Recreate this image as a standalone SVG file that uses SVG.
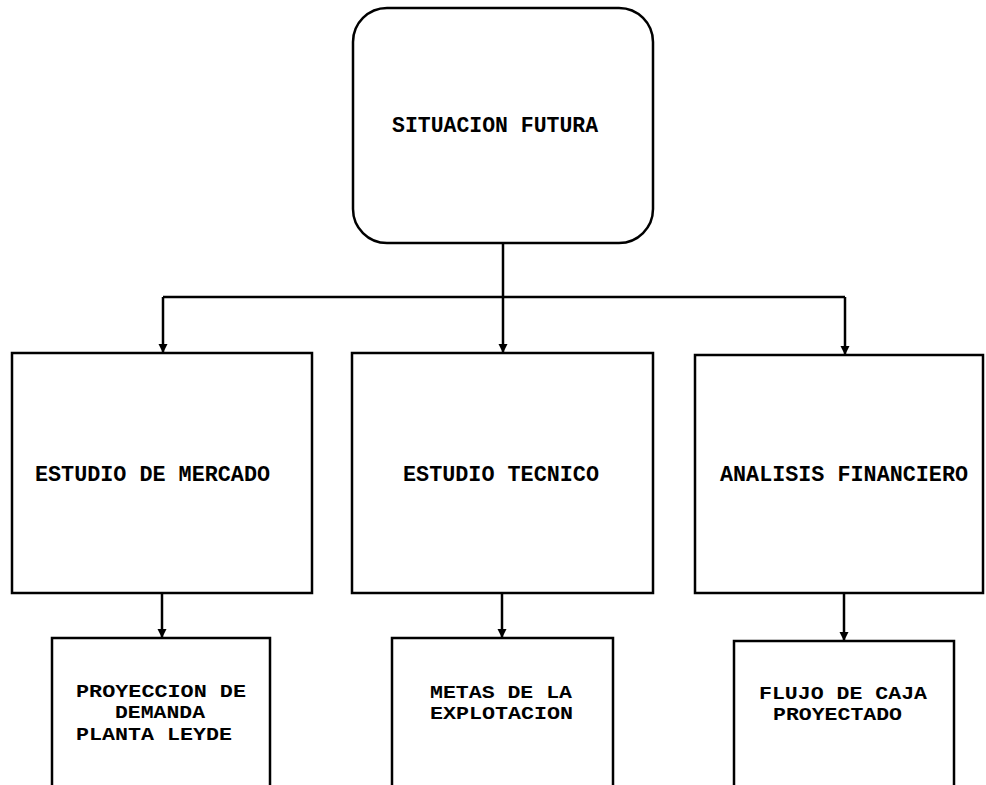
<svg xmlns="http://www.w3.org/2000/svg" width="986" height="785" viewBox="0 0 986 785">
<defs>
<marker id="ah" viewBox="0 0 10 10" refX="10" refY="5" markerWidth="9" markerHeight="10" markerUnits="userSpaceOnUse" orient="auto">
<path d="M0,0 L10,5 L0,10 Z" fill="#000"/>
</marker>
<style>
.box{fill:#fff;stroke:#000;stroke-width:2.5}
.t{font-family:"Liberation Mono","Courier New",monospace;font-weight:bold;font-size:22px;fill:#000}
.s{font-size:19px}
.c{fill:none;stroke:#000;stroke-width:2.5}
</style>
</defs>
<rect width="986" height="785" fill="#fff"/>
<g id="connectors">
<path class="c" d="M503,243 V297"/>
<path class="c" d="M163,297 H845"/>
<path class="c" d="M163,297 V353" marker-end="url(#ah)"/>
<path class="c" d="M503,297 V353" marker-end="url(#ah)"/>
<path class="c" d="M845,297 V355" marker-end="url(#ah)"/>
<path class="c" d="M162,593 V638" marker-end="url(#ah)"/>
<path class="c" d="M502,593 V638" marker-end="url(#ah)"/>
<path class="c" d="M844,593 V641" marker-end="url(#ah)"/>
</g>
<g id="situacion">
<rect class="box" x="353" y="8" width="300" height="235" rx="34" ry="34"/>
<text class="t" x="392" y="132" textLength="206" lengthAdjust="spacingAndGlyphs">SITUACION FUTURA</text>
</g>
<g id="mercado">
<rect class="box" x="12" y="353" width="300" height="240"/>
<text class="t" x="35" y="481" textLength="235" lengthAdjust="spacingAndGlyphs">ESTUDIO DE MERCADO</text>
</g>
<g id="tecnico">
<rect class="box" x="352" y="353" width="301" height="240"/>
<text class="t" x="403" y="481" textLength="196" lengthAdjust="spacingAndGlyphs">ESTUDIO TECNICO</text>
</g>
<g id="financiero">
<rect class="box" x="695" y="355" width="288" height="238"/>
<text class="t" x="720" y="481" textLength="248" lengthAdjust="spacingAndGlyphs">ANALISIS FINANCIERO</text>
</g>
<g id="proyeccion">
<rect class="box" x="52" y="638" width="218" height="170"/>
<text class="t s" x="76" y="697" textLength="170" lengthAdjust="spacingAndGlyphs">PROYECCION DE</text>
<text class="t s" x="115" y="718" textLength="90" lengthAdjust="spacingAndGlyphs">DEMANDA</text>
<text class="t s" x="76" y="740" textLength="156" lengthAdjust="spacingAndGlyphs">PLANTA LEYDE</text>
</g>
<g id="metas">
<rect class="box" x="392" y="638" width="221" height="170"/>
<text class="t s" x="430" y="698" textLength="142" lengthAdjust="spacingAndGlyphs">METAS DE LA</text>
<text class="t s" x="430" y="719" textLength="143" lengthAdjust="spacingAndGlyphs">EXPLOTACION</text>
</g>
<g id="flujo">
<rect class="box" x="734" y="641" width="220" height="170"/>
<text class="t s" x="759" y="699" textLength="168" lengthAdjust="spacingAndGlyphs">FLUJO DE CAJA</text>
<text class="t s" x="773" y="720" textLength="129" lengthAdjust="spacingAndGlyphs">PROYECTADO</text>
</g>
</svg>
